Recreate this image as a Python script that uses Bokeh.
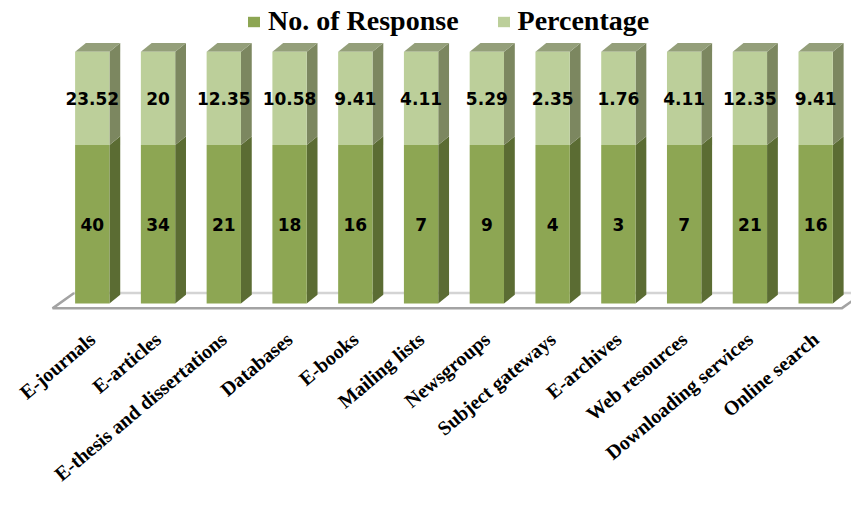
from bokeh.plotting import figure
from bokeh.models import Range1d, Legend, LegendItem, ColumnDataSource
from bokeh.core.properties import value
from bokeh.embed import file_html
from bokeh.resources import INLINE

categories = ["E-journals", "E-articles", "E-thesis and dissertations", "Databases",
              "E-books", "Mailing lists", "Newsgroups", "Subject gateways",
              "E-archives", "Web resources", "Downloading services", "Online search"]
responses = [40, 34, 21, 18, 16, 7, 9, 4, 3, 7, 21, 16]
percentages = [23.52, 20, 12.35, 10.58, 9.41, 4.11, 5.29, 2.35, 1.76, 4.11, 12.35, 9.41]

# colours
FRONT_D = "#8DA653"
FRONT_L = "#BCCF9A"
SIDE_D = "#5B6C33"
SIDE_L = "#7C8760"
TOP_L = "#949F7A"

W = 0.522      # bar width in category units
DX = 11 / 67   # 3D depth offset (x)
DY = 9 / 260   # 3D depth offset (y)

p = figure(width=851, height=489, output_backend="svg", toolbar_location=None,
           x_range=Range1d(-1.3955, 11.545), y_range=Range1d(-0.7385, 1.2039),
           x_axis_location=None, y_axis_location=None, min_border=0)
p.grid.visible = False
p.outline_line_color = None
p.background_fill_color = "white"

# floor
fx0, fx1, fy0 = -0.604, 11.395, -0.019
fdx, fdy = 0.328, 0.061
p.patch([fx0, fx1, fx1 + fdx, fx0 + fdx], [fy0, fy0, fy0 + fdy, fy0 + fdy],
        fill_color="white", line_color=None)
p.line([fx0 + fdx, fx1 + fdx], [fy0 + fdy, fy0 + fdy], line_color="#D4D4D4", line_width=2.5)
p.line([fx0 + fdx, fx0, fx1, fx1 + fdx], [fy0 + fdy, fy0, fy0, fy0 + fdy],
       line_color="#A3A3A3", line_width=2.5)

idx = list(range(len(categories)))
frac = [r / (r + q) for r, q in zip(responses, percentages)]

left = [i - W / 2 for i in idx]
right = [i + W / 2 for i in idx]

# side faces
side_d_xs = [[r, r + DX, r + DX, r] for r in right]
side_d_ys = [[0, DY, f + DY, f] for f in frac]
side_l_xs = side_d_xs
side_l_ys = [[f, f + DY, 1 + DY, 1] for f in frac]
top_xs = [[l, r, r + DX, l + DX] for l, r in zip(left, right)]
top_ys = [[1, 1, 1 + DY, 1 + DY] for _ in idx]

p.patches(side_d_xs, side_d_ys, fill_color=SIDE_D, line_color=None)
p.patches(side_l_xs, side_l_ys, fill_color=SIDE_L, line_color=None)
p.patches(top_xs, top_ys, fill_color=TOP_L, line_color=None)

src = ColumnDataSource(dict(left=left, right=right, frac=frac, one=[1] * len(idx),
                            zero=[0] * len(idx), x=idx,
                            mid_r=[f / 2 for f in frac], mid_p=[(f + 1) / 2 for f in frac],
                            rtxt=[str(r) for r in responses],
                            ptxt=[f"{v:g}" for v in percentages],
                            cat=categories, laby=[-0.13] * len(idx)))

r_resp = p.quad(left="left", right="right", bottom="zero", top="frac", source=src,
                fill_color=FRONT_D, line_color=None)
r_pct = p.quad(left="left", right="right", bottom="frac", top="one", source=src,
               fill_color=FRONT_L, line_color=None)

p.text(x="x", y="mid_r", text="rtxt", source=src, text_align="center", text_baseline="middle",
       text_font=value("DejaVu Sans"), text_font_style="bold", text_font_size="17px",
       text_color="black")
p.text(x="x", y="mid_p", text="ptxt", source=src, text_align="center", text_baseline="middle",
       text_font=value("DejaVu Sans"), text_font_style="bold", text_font_size="17px",
       text_color="black")

p.text(x="x", y="laby", text="cat", source=src, text_align="right", text_baseline="middle",
       angle=0.70, text_font=value("Liberation Serif"), text_font_style="bold",
       text_font_size="20px", text_color="black")

legend = Legend(items=[LegendItem(label="No. of Response", renderers=[r_resp]),
                       LegendItem(label="Percentage", renderers=[r_pct])],
                orientation="horizontal", location=(246, 452),
                label_text_font="Liberation Serif", label_text_font_style="bold",
                label_text_font_size="28px", label_text_color="black",
                glyph_width=15, glyph_height=13, label_standoff=7, spacing=37,
                padding=0, margin=0, border_line_color=None, background_fill_alpha=0)
p.add_layout(legend, "center")

open("out.html", "w").write(file_html(p, INLINE))
